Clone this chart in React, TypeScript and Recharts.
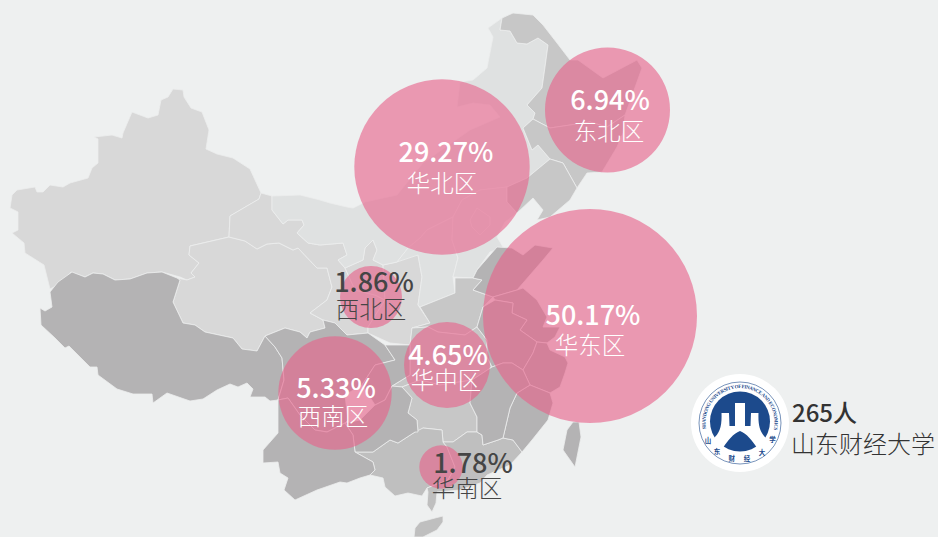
import { ScatterChart, Scatter, XAxis, YAxis, ZAxis } from "recharts";

type Pt = number[];

// map outline, in picture units (x right, y down)
const xinjiang: Pt[] = [[173,89],[183,90],[184,97],[191,108],[202,112],[209,130],[206,149],[217,154],[233,158],[250,169],[261,193],[259,199],[230,216],[229,237],[190,246],[189,255],[199,263],[191,273],[195,277],[187,280],[180,277],[162,272],[147,273],[130,279],[115,280],[103,274],[93,273],[85,277],[71,272],[58,285],[50,289],[44,265],[25,253],[24,243],[12,233],[18,230],[18,212],[10,208],[12,195],[17,190],[35,187],[37,192],[43,192],[50,185],[63,187],[70,183],[88,178],[92,168],[98,163],[98,139],[94,137],[112,135],[122,138],[123,133],[132,112],[148,118],[158,115],[161,100],[168,97]];
const tibet: Pt[] = [[72,272],[58,282],[50,292],[52,307],[45,311],[40,308],[41,325],[55,338],[65,348],[69,346],[90,367],[97,367],[98,375],[117,389],[133,394],[152,394],[153,403],[167,393],[190,401],[203,399],[217,390],[230,384],[238,387],[247,383],[253,389],[250,397],[265,397],[270,401],[278,400],[284,380],[282,358],[275,347],[265,336],[257,351],[242,349],[233,338],[205,332],[195,325],[183,323],[173,302],[180,280],[177,278],[162,272],[147,273],[130,279],[115,280],[103,274],[93,273],[85,277]];
const qinghai: Pt[] = [[190,246],[229,237],[245,241],[257,249],[267,244],[279,243],[293,250],[298,248],[317,268],[327,268],[332,287],[327,300],[310,313],[323,320],[325,328],[310,332],[307,338],[300,332],[285,328],[265,336],[257,351],[242,349],[233,338],[205,332],[195,325],[183,323],[173,302],[180,280],[177,278],[187,280],[195,277],[191,273],[199,263],[189,255]];
const gansu: Pt[] = [[261,193],[272,196],[272,210],[283,224],[288,220],[302,220],[304,225],[297,233],[308,243],[320,245],[343,243],[347,255],[338,260],[345,268],[355,290],[375,295],[385,300],[368,327],[368,333],[347,335],[335,323],[323,320],[310,313],[327,300],[332,287],[327,268],[317,268],[298,248],[293,250],[279,243],[267,244],[257,249],[245,241],[229,237],[230,216],[259,199]];
const ningxia: Pt[] = [[345,268],[363,260],[365,248],[373,240],[377,250],[373,260],[383,265],[385,300],[375,295],[355,290]];
const shaanxi: Pt[] = [[383,265],[397,262],[408,248],[418,255],[422,277],[418,305],[430,323],[412,328],[410,345],[390,343],[368,333],[368,327],[385,300]];
const innerMongolia: Pt[] = [[272,196],[300,195],[320,200],[330,203],[347,207],[353,208],[365,202],[397,195],[423,163],[470,130],[500,117],[490,105],[473,103],[457,107],[460,82],[473,80],[487,68],[493,37],[488,28],[502,18],[500,30],[510,31],[517,43],[527,44],[538,38],[548,45],[545,67],[542,88],[527,105],[535,113],[533,119],[523,128],[532,150],[538,145],[550,159],[533,173],[527,178],[507,187],[480,190],[462,200],[453,217],[427,230],[420,238],[408,248],[397,262],[383,265],[373,260],[377,250],[373,240],[365,248],[363,260],[345,268],[338,260],[347,255],[343,243],[320,245],[308,243],[297,233],[304,225],[302,220],[288,220],[283,224],[272,210]];
const shanxi: Pt[] = [[397,262],[408,248],[420,238],[427,230],[453,217],[452,240],[458,258],[453,277],[455,293],[420,307],[418,305],[422,277],[418,255]];
const hebei: Pt[] = [[453,217],[462,200],[480,190],[507,187],[507,202],[517,213],[505,222],[497,237],[503,247],[490,252],[477,270],[473,278],[453,277],[458,258],[452,240]];
const beijing: Pt[] = [[470,220],[477,208],[490,217],[490,225],[480,235],[472,227]];
const heilongjiang: Pt[] = [[502,18],[513,13],[533,15],[543,25],[557,43],[570,60],[578,60],[603,78],[637,60],[642,68],[633,93],[625,115],[607,127],[590,122],[570,125],[550,128],[533,119],[535,113],[527,105],[542,88],[545,67],[548,45],[538,38],[527,44],[517,43],[510,31],[500,30]];
const jilin: Pt[] = [[533,119],[550,128],[570,125],[590,122],[607,127],[625,115],[623,133],[617,147],[602,172],[587,173],[577,188],[563,163],[550,159],[538,145],[532,150],[523,128]];
const liaoning: Pt[] = [[550,159],[563,163],[577,188],[570,200],[550,217],[537,220],[543,210],[533,198],[517,213],[507,202],[507,187],[527,178],[533,173]];
const shandong: Pt[] = [[477,270],[497,247],[512,248],[523,255],[535,245],[553,248],[543,260],[530,275],[517,290],[493,297],[473,290],[482,280],[473,278]];
const henan: Pt[] = [[455,278],[473,278],[482,280],[473,290],[493,297],[483,307],[477,327],[465,335],[438,332],[428,327],[412,328],[430,323],[420,307],[455,293]];
const jiangsu: Pt[] = [[493,297],[517,290],[523,288],[537,300],[547,317],[543,327],[560,327],[555,337],[547,343],[537,342],[520,330],[527,320],[512,313],[513,303],[495,300]];
const anhui: Pt[] = [[483,307],[495,300],[513,303],[512,313],[527,320],[520,330],[537,342],[533,353],[523,370],[512,363],[503,363],[492,367],[487,357],[487,340],[477,327]];
const zhejiang: Pt[] = [[537,342],[547,343],[550,350],[565,357],[568,363],[565,373],[560,387],[550,393],[530,385],[523,370],[533,353]];
const fujian: Pt[] = [[530,385],[550,393],[553,403],[548,420],[540,430],[532,440],[522,452],[513,440],[503,438],[510,408],[517,393]];
const jiangxi: Pt[] = [[492,367],[503,363],[512,363],[523,370],[530,385],[517,393],[510,408],[503,438],[498,440],[483,445],[482,435],[477,432],[477,417],[470,403],[472,380]];
const hubei: Pt[] = [[412,328],[428,327],[438,332],[465,335],[477,327],[487,340],[487,357],[492,367],[472,380],[440,385],[420,380],[402,387],[392,386],[410,375],[410,345]];
const hunan: Pt[] = [[402,387],[420,380],[440,385],[472,380],[470,403],[477,417],[477,432],[467,432],[453,442],[443,442],[442,430],[423,428],[418,432],[417,420],[408,413],[412,398]];
const sichuan: Pt[] = [[265,336],[285,328],[300,332],[307,338],[310,332],[325,328],[323,320],[335,323],[347,335],[368,333],[385,345],[395,360],[375,365],[362,385],[345,395],[348,420],[345,423],[327,432],[315,430],[300,415],[288,398],[278,400],[284,380],[282,358],[275,347]];
const chongqing: Pt[] = [[385,345],[410,345],[410,375],[392,386],[385,400],[375,405],[362,385],[375,365],[395,360]];
const guizhou: Pt[] = [[345,423],[360,420],[375,405],[385,400],[392,386],[402,387],[412,398],[408,413],[417,420],[418,432],[415,432],[398,443],[390,440],[373,452],[355,452],[353,435]];
const yunnan: Pt[] = [[278,400],[288,398],[300,415],[315,430],[327,432],[345,423],[353,435],[355,452],[373,462],[375,470],[370,475],[360,478],[347,483],[340,482],[317,490],[295,500],[284,490],[288,478],[280,473],[278,462],[263,463],[263,450],[278,433],[278,410]];
const guangxi: Pt[] = [[355,452],[373,452],[390,440],[398,443],[415,432],[423,428],[442,430],[443,442],[447,447],[455,467],[448,480],[427,488],[422,496],[408,493],[395,496],[385,487],[383,478],[370,475],[375,470],[373,462]];
const guangdong: Pt[] = [[443,442],[453,442],[467,432],[477,432],[482,435],[483,445],[498,440],[503,438],[513,440],[522,452],[510,465],[487,475],[480,483],[460,490],[437,492],[436,503],[432,512],[427,505],[428,492],[427,488],[448,480],[455,467],[447,447]];
const hainan: Pt[] = [[415,528],[420,522],[435,518],[443,516],[443,522],[437,530],[423,537],[414,537]];
const taiwan: Pt[] = [[567,430],[573,422],[579,422],[581,437],[575,467],[563,450]];

const lightRegions = [innerMongolia, shanxi, hebei, beijing];
const midRegions = [xinjiang, qinghai, gansu, ningxia, shaanxi];
const northeastRegions = [heilongjiang, jilin, liaoning, henan, hubei, hunan];
const southRegions = [guangxi, guangdong, hainan];
const darkRegions = [tibet, sichuan, chongqing, guizhou, yunnan, shandong, jiangsu, anhui, zhejiang, fujian, jiangxi, taiwan];

const regionNames = ["华东区", "华北区", "东北区", "西南区", "华中区", "西北区", "华南区"];
const shares = ["50.17%", "29.27%", "6.94%", "5.33%", "4.65%", "1.86%", "1.78%"];
const bubbleX = [590, 442, 607.5, 335, 447, 371, 441];
const bubbleY = [316, 167, 110, 393, 365, 297, 467];
const bubbleWeight = [11449, 7691, 3906, 3215, 1849, 961, 471];
const shareX = [593, 446, 610, 336, 448, 374, 473];
const shareY = [325, 162, 110, 398, 365, 292, 473];
const nameX = [590, 442, 609, 333, 446, 371, 467];
const nameY = [354, 192, 140, 425, 389, 318, 497];
const darkLabels = ["西北区", "华南区"];
const sealChars = ["山", "东", "财", "经", "大", "学"];
const sealAngles = [151, 129, 103, 79, 53, 27];

const bubbles = regionNames.map((name, i) => ({ name, x: bubbleX[i], y: bubbleY[i], z: bubbleWeight[i] }));
const labels = regionNames.map((name, i) => ({
  name,
  share: shares[i],
  x: shareX[i],
  y: shareY[i],
  nameDx: nameX[i] - shareX[i],
  nameDy: nameY[i] - shareY[i],
}));
const logoPoint = [{ x: 740, y: 423 }];
const schoolPoint = [{ x: 791, y: 422 }];

const font = '"Noto Sans CJK SC", "Noto Sans", sans-serif';

function toPoints(region: Pt[]) {
  return [...region, region[0]].map(([x, y]) => ({ x, y }));
}

function LabelShape(props: any) {
  const { cx, cy, payload } = props;
  const color = darkLabels.includes(payload.name) ? "#454545" : "#ffffff";
  return (
    <g fontFamily={font} textAnchor="middle" fill={color}>
      <text x={cx} y={cy} fontSize={27} fontWeight={500}>{payload.share}</text>
      <text x={cx + payload.nameDx} y={cy + payload.nameDy} fontSize={23.5} fontWeight={300}>{payload.name}</text>
    </g>
  );
}

function SchoolShape(props: any) {
  const { cx, cy } = props;
  return (
    <g fontFamily={font} fill="#333333">
      <text x={cx + 1} y={cy} fontSize={24} fontWeight={500}>265人</text>
      <text x={cx} y={cy + 31} fontSize={24} fontWeight={300}>山东财经大学</text>
    </g>
  );
}

function LogoShape(props: any) {
  const { cx, cy } = props;
  const blue = "#1c4a8c";
  return (
    <g transform={`translate(${cx},${cy})`}>
      <defs>
        <path id="logo-top" d="M-33.9,6 A34.5,34.5 0 1 1 33.9,6" />
      </defs>
      <circle r={49} fill="#ffffff" />
      <circle r={41} fill="none" stroke={blue} strokeWidth={0.6} />
      <circle cy={-1.5} r={30} fill={blue} />
      <text fontSize={5} fontFamily='"Liberation Serif", serif' fontWeight={700} fill={blue}>
        <textPath href="#logo-top" textLength={122} lengthAdjust="spacing">
          SHANDONG UNIVERSITY OF FINANCE AND ECONOMICS
        </textPath>
      </text>
      {sealChars.map((c, i) => {
        const a = sealAngles[i] * (Math.PI / 180);
        return (
          <text key={c} x={Math.cos(a) * 36.5} y={Math.sin(a) * 36.5 + 2.5} fontSize={6.5} textAnchor="middle" fontFamily={font} fontWeight={700} fill={blue}>
            {c}
          </text>
        );
      })}
      <path
        d="M-18.5,-10 L-11,-10 L-10.5,3 L-5,3 L-5,-20 L5,-20 L5,3 L10.5,3 L11,-10 L18.5,-10 C18,3 20,10 27,16 L17,25 C12,17 7,11 0,8 C-7,11 -12,17 -17,25 L-27,16 C-20,10 -18,3 -18.5,-10 Z"
        fill="#ffffff"
      />
    </g>
  );
}

function drawNothing() {
  return <g />;
}

function regionSeries(regions: Pt[][], fill: string, key: string) {
  return regions.map((region, i) => (
    <Scatter
      key={`${key}-${i}`}
      data={toPoints(region)}
      shape={drawNothing}
      line={{ fill, stroke: "#eceeee", strokeWidth: 0.8 }}
      isAnimationActive={false}
    />
  ));
}

export default function App() {
  return (
    <div style={{ position: "fixed", left: 0, top: 0, width: 938, height: 537, background: "#eef0f0", overflow: "hidden" }}>
      <ScatterChart width={938} height={537} margin={{ top: 0, right: 0, bottom: 0, left: 0 }}>
        <XAxis type="number" dataKey="x" domain={[0, 938]} hide />
        <YAxis type="number" dataKey="y" domain={[0, 537]} reversed hide />
        <ZAxis type="number" dataKey="z" domain={[0, 11449]} range={[0, 35968]} />
        {regionSeries(midRegions, "#d8d8d8", "mid")}
        {regionSeries(lightRegions, "#dfe1e1", "light")}
        {regionSeries(northeastRegions, "#c7c7c7", "ne")}
        {regionSeries(southRegions, "#bfbfbf", "south")}
        {regionSeries(darkRegions, "#b4b3b4", "dark")}
        <Scatter data={bubbles} fill="#e6638b" fillOpacity={0.62} isAnimationActive={false} />
        <Scatter data={labels} shape={LabelShape} isAnimationActive={false} />
        <Scatter data={logoPoint} shape={LogoShape} isAnimationActive={false} />
        <Scatter data={schoolPoint} shape={SchoolShape} isAnimationActive={false} />
      </ScatterChart>
    </div>
  );
}
